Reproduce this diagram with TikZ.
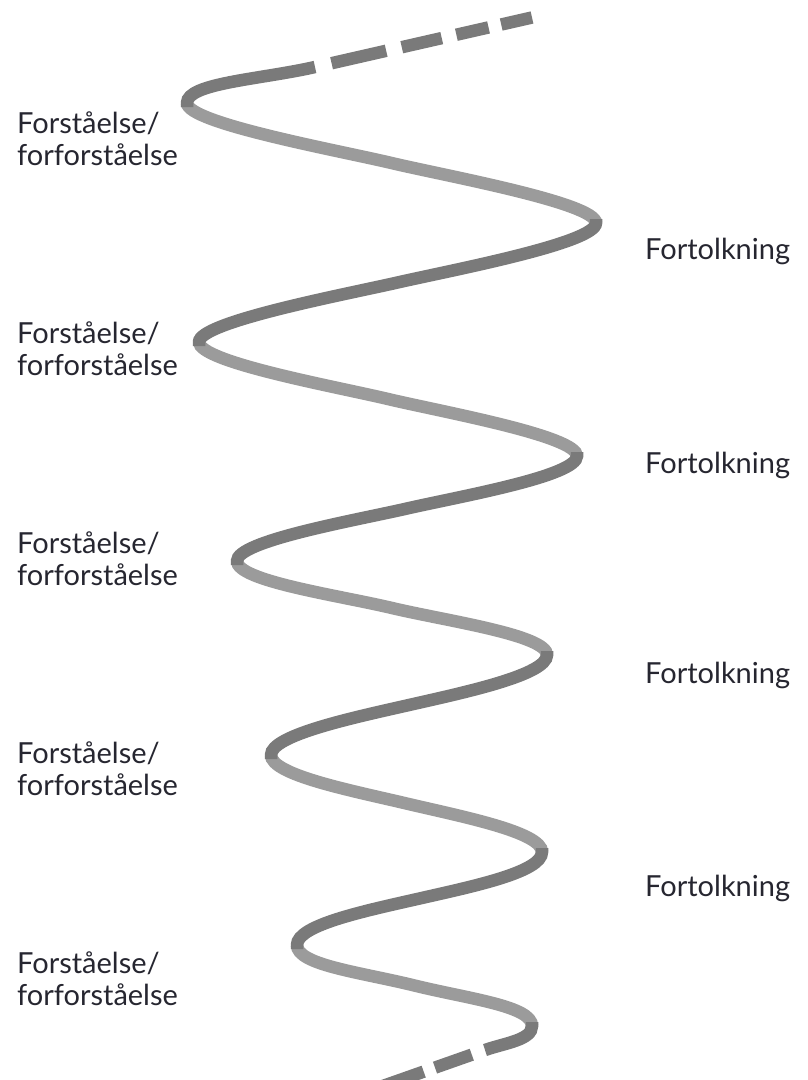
\documentclass[tikz,border=0pt]{standalone}
\usepackage{fontspec}
\setmainfont{Lato}
\usetikzlibrary{calc}
\definecolor{darkgr}{RGB}{122,122,122}
\definecolor{lightgr}{RGB}{155,155,155}
\definecolor{txt}{RGB}{38,38,48}
\newcommand\tipk{20}
% #1 style, #2 start tip, #3 end tip, #4 tangent vector at the middle
\newcommand\spiralhalf[4]{%
  \draw[#1] (#2) .. controls +(0,\tipk) and ($(#2)!0.5!(#3) - #4$) .. ($(#2)!0.5!(#3)$)
    .. controls ($(#2)!0.5!(#3) + #4$) and +(0,-\tipk) .. (#3);}
% dark half, slightly overlapping the light ones at both tips
\newcommand\spiralback[4]{%
  \draw[#1] ($(#2)+(0,-4)$) -- (#2) .. controls +(0,\tipk) and ($(#2)!0.5!(#3) - #4$) .. ($(#2)!0.5!(#3)$)
    .. controls ($(#2)!0.5!(#3) + #4$) and +(0,-\tipk) .. (#3) -- +(0,4);}
\begin{document}
\begin{tikzpicture}[x=1pt,y=-1pt,
  helix/.style={line width=12.5pt, line cap=butt},
  front/.style={helix, draw=lightgr},
  back/.style={helix, draw=darkgr},
  lbl/.style={font=\fontsize{29}{32}\selectfont, text=txt, inner sep=0pt, align=left, anchor=base west}]
\useasboundingbox (0,0) rectangle (808,1080);
\clip (0,0) rectangle (808,1080);
% turning points of the spiral
\coordinate (L1) at (187,103);
\coordinate (R1) at (596,223);
\coordinate (L2) at (199,342);
\coordinate (R2) at (577,456);
\coordinate (L3) at (237,561);
\coordinate (R3) at (547,655);
\coordinate (L4) at (271,755);
\coordinate (R4) at (542,852);
\coordinate (L5) at (297,945);
\coordinate (R5) at (532,1026);
% ends
\coordinate (TS) at (315,67);
\coordinate (TE) at (532,17.5);
\coordinate (BS) at (485,1050);
\coordinate (BE) at (380,1087);
% front (light) halves
\spiralhalf{front}{L1}{R1}{(55,13)}
\spiralhalf{front}{L2}{R2}{(55,13)}
\spiralhalf{front}{L3}{R3}{(55,13)}
\spiralhalf{front}{L4}{R4}{(55,13)}
\spiralhalf{front}{L5}{R5}{(55,13.5)}
% back (dark) halves
\draw[back] (TS) .. controls ($(TS)+(-55,12.5)$) and +(0,-20) .. (L1) -- +(0,4);
\spiralback{back}{R1}{L2}{(-55,12.5)}
\spiralback{back}{R2}{L3}{(-55,12.5)}
\spiralback{back}{R3}{L4}{(-55,12.5)}
\spiralback{back}{R4}{L5}{(-55,12.5)}
\draw[back] ($(R5)+(0,-4)$) -- (R5) .. controls +(0,14) and ($(BS)+(20,-7)$) .. (BS);
% dashed continuations
\draw[back, dash pattern=on 0pt off 17pt on 56pt off 16pt on 41pt off 15pt on 33pt off 13pt on 40pt] (TS) -- (TE);
\draw[back, dash pattern=on 0pt off 14pt on 39pt off 12pt on 60pt] (BS) -- (BE);
% labels
\node[lbl] (f1) at (17,165) {Forståelse/\\forforståelse};
\node[lbl] (f2) at (17,375) {Forståelse/\\forforståelse};
\node[lbl] (f3) at (17,585) {Forståelse/\\forforståelse};
\node[lbl] (f4) at (17,795) {Forståelse/\\forforståelse};
\node[lbl] (f5) at (17,1005) {Forståelse/\\forforståelse};
\node[lbl] (t1) at (645,259) {Fortolkning};
\node[lbl] (t2) at (645,473) {Fortolkning};
\node[lbl] (t3) at (645,683) {Fortolkning};
\node[lbl] (t4) at (645,896) {Fortolkning};
\end{tikzpicture}
\end{document}
